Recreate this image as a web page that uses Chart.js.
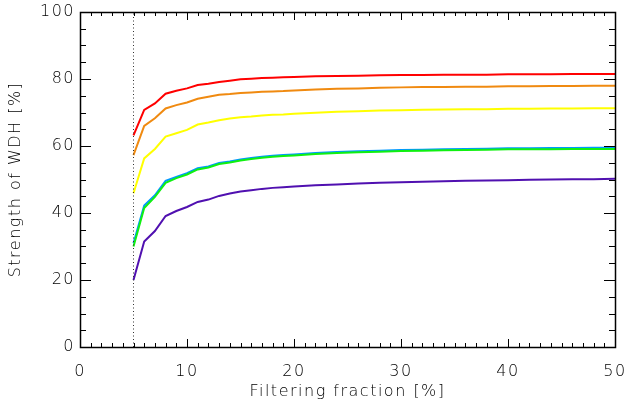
<!DOCTYPE html>
<html>
<head>
<meta charset="utf-8">
<script src="https://cdn.jsdelivr.net/npm/chart.js@4"></script>
<style>
  html, body { margin: 0; padding: 0; background: #fff; }
  #wrap { width: 627px; height: 405px; }
</style>
</head>
<body>
<div id="wrap"><canvas id="c" width="627" height="405"></canvas></div>
<script>
// Filtering fraction [%]
const fractions = [5,6,7,8,9,10,11,12,13,14,15,16,17,18,19,20,22,24,26,28,30,32,34,36,38,40,42,44,46,48,50];
// Strength of WDH [%]
const redSeries    = [63.2,70.8,72.7,75.6,76.5,77.2,78.2,78.6,79.1,79.5,79.9,80.1,80.3,80.4,80.5,80.6,80.8,80.9,81.0,81.1,81.2,81.2,81.3,81.3,81.3,81.4,81.4,81.4,81.5,81.5,81.5];
const orangeSeries = [57.3,66.0,68.3,71.2,72.2,73.0,74.1,74.7,75.3,75.5,75.8,76.0,76.2,76.3,76.4,76.6,76.9,77.1,77.2,77.4,77.5,77.6,77.6,77.7,77.7,77.8,77.8,77.9,77.9,78.0,78.0];
const yellowSeries = [45.9,56.3,59.1,62.8,63.8,64.8,66.4,67.0,67.7,68.2,68.6,68.8,69.1,69.3,69.4,69.6,69.9,70.2,70.4,70.6,70.7,70.8,70.9,71.0,71.0,71.1,71.1,71.2,71.2,71.3,71.3];
const blueSeries   = [31.0,42.2,45.3,49.6,50.8,51.9,53.4,53.9,54.9,55.4,56.0,56.4,56.8,57.1,57.3,57.5,57.9,58.2,58.4,58.6,58.8,58.9,59.0,59.1,59.2,59.3,59.3,59.4,59.4,59.5,59.5];
const greenSeries  = [30.0,41.5,44.8,49.0,50.4,51.5,53.0,53.6,54.6,55.1,55.7,56.1,56.5,56.8,57.0,57.2,57.6,57.9,58.1,58.3,58.5,58.6,58.7,58.8,58.9,59.0,59.0,59.0,59.1,59.1,59.1];
const purpleSeries = [20.0,31.5,34.6,39.1,40.6,41.8,43.3,44.0,45.1,45.8,46.4,46.8,47.2,47.5,47.7,47.9,48.3,48.5,48.8,49.0,49.2,49.3,49.5,49.6,49.7,49.8,49.9,50.0,50.1,50.1,50.2];
// Vertical marker at the minimum filtering fraction
const markerX = [5, 5];
const markerY = [0, 100];
const xTicks = [0,10,20,30,40,50];
const yTicks = [0,20,40,60,80,100];

function pts(xs, ys) { return xs.map((x, i) => ({x: x, y: ys[i]})); }

const FONT = 'DejaVu Sans';

const series = [
  {data: purpleSeries, color: '#5010b0'},
  {data: greenSeries,  color: '#10f010'},
  {data: blueSeries,   color: '#0098ff'},
  {data: yellowSeries, color: '#ffff00'},
  {data: orangeSeries, color: '#f08a10'},
  {data: redSeries,    color: '#ff0000'}
];

const datasets = [{
  data: pts(markerX, markerY),
  borderColor: '#333',
  borderWidth: 1,
  borderDash: [1, 2.5],
  pointRadius: 0,
  fill: false
}].concat(series.map(s => ({
  data: pts(fractions, s.data),
  borderColor: s.color,
  borderWidth: 2,
  pointRadius: 0,
  fill: false,
  tension: 0
})));

const spacingPlugin = {
  id: 'spacing',
  beforeDraw(chart) { chart.ctx.letterSpacing = '1.5px'; }
};

const ticksPlugin = {
  id: 'idlTicks',
  afterDatasetsDraw(chart) {
    const ctx = chart.ctx;
    const a = chart.chartArea;
    const xs = chart.scales.x, ys = chart.scales.y;
    ctx.save();
    ctx.strokeStyle = '#000';
    ctx.lineWidth = 1;
    ctx.beginPath();
    // x ticks (every 1, major every 10)
    for (let v = xs.min; v <= xs.max; v += 1) {
      const px = Math.round(xs.getPixelForValue(v)) + 0.5;
      const len = (v % 10 === 0) ? 8 : 4;
      ctx.moveTo(px, a.bottom); ctx.lineTo(px, a.bottom - len);
      ctx.moveTo(px, a.top); ctx.lineTo(px, a.top + len);
    }
    // y ticks (every 5, major every 20)
    for (let v = ys.min; v <= ys.max; v += 5) {
      const py = Math.round(ys.getPixelForValue(v)) + 0.5;
      const len = (v % 20 === 0) ? 11 : 6;
      ctx.moveTo(a.left, py); ctx.lineTo(a.left + len, py);
      ctx.moveTo(a.right, py); ctx.lineTo(a.right - len, py);
    }
    ctx.stroke();
    ctx.lineWidth = 1.5;
    ctx.strokeRect(Math.round(a.left) + 0.5, Math.round(a.top) + 0.5,
                   Math.round(a.right - a.left), Math.round(a.bottom - a.top));
    ctx.restore();
  }
};

new Chart(document.getElementById('c'), {
  type: 'line',
  data: { datasets: datasets },
  options: {
    responsive: false,
    animation: false,
    events: [],
    layout: { padding: { left: 0, right: 12, top: 12, bottom: 0 } },
    plugins: { legend: { display: false }, tooltip: { enabled: false } },
    scales: {
      x: {
        type: 'linear', min: 0, max: 50,
        afterBuildTicks: s => { s.ticks = xTicks.map(v => ({value: v})); },
        afterFit: s => { s.height = 58; s.paddingLeft = 0; s.paddingRight = 0; },
        grid: { display: false, drawTicks: false },
        border: { display: false },
        ticks: { color: '#000', padding: 15, maxRotation: 0, font: { family: FONT, size: 16, weight: 300 } },
        title: { display: true, text: 'Filtering fraction [%]', color: '#000', padding: { top: 0, bottom: 4 }, font: { family: FONT, size: 16, weight: 300 } }
      },
      y: {
        type: 'linear', min: 0, max: 100,
        afterBuildTicks: s => { s.ticks = yTicks.map(v => ({value: v})); },
        afterFit: s => { s.width = 80; s.paddingTop = 0; s.paddingBottom = 0; },
        grid: { display: false, drawTicks: false },
        border: { display: false },
        ticks: { color: '#000', padding: 5, font: { family: FONT, size: 16, weight: 300 } },
        title: { display: true, text: 'Strength of WDH [%]', color: '#000', padding: { top: 6, bottom: 0 }, font: { family: FONT, size: 16, weight: 300 } }
      }
    }
  },
  plugins: [spacingPlugin, ticksPlugin]
});
</script>
</body>
</html>
